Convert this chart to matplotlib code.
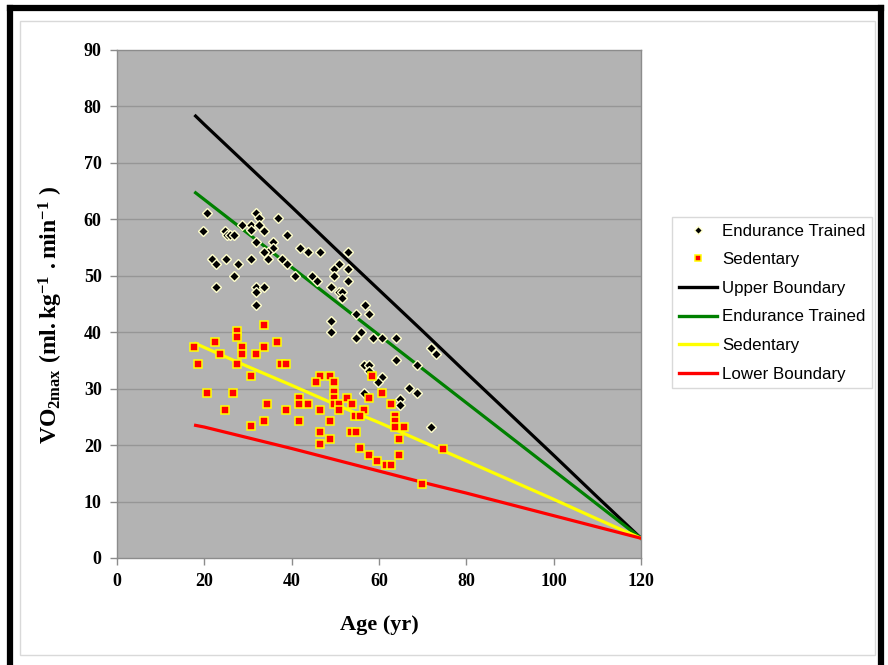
import matplotlib
matplotlib.use("Agg")
import matplotlib.pyplot as plt
from matplotlib.lines import Line2D
from matplotlib.patches import Rectangle

# endurance trained subjects (age, VO2max)
trained_age = [20.7, 19.8, 24.7, 25.1, 25.9, 26.8, 28.7, 30.6, 30.6, 31.8,
               32.6, 32.6, 33.7, 36.9, 38.9, 31.8, 35.8, 35.8, 34.6, 33.7,
               41.9, 43.8, 21.7, 22.6, 24.9, 27.6, 30.7, 34.6, 37.7, 38.9,
               40.8, 26.8, 22.6, 31.8, 33.7, 31.8, 31.8, 46.6, 52.8, 50.8,
               49.7, 52.8, 44.7, 45.9, 49.7, 52.8, 48.9, 50.8, 51.6, 51.6,
               56.8, 54.7, 57.8, 48.9, 48.9, 55.9, 54.7, 58.7, 60.8, 63.8,
               71.8, 73.0, 63.8, 68.7, 56.6, 57.8, 57.8, 60.8, 59.8, 66.8,
               68.7, 56.6, 64.8, 64.8, 71.8]
trained_vo2 = [61.1, 58.0, 58.0, 57.2, 57.2, 57.2, 59.0, 59.0, 58.1, 61.1,
               60.2, 59.0, 58.0, 60.2, 57.2, 55.9, 55.9, 55.0, 54.2, 54.2,
               55.0, 54.2, 53.0, 52.1, 53.0, 52.1, 53.0, 53.0, 53.0, 52.1,
               50.0, 50.0, 48.1, 48.1, 48.1, 47.1, 44.9, 54.2, 54.2, 52.1,
               51.2, 51.2, 50.0, 49.1, 50.0, 49.1, 48.1, 47.1, 47.1, 46.1,
               44.9, 43.2, 43.2, 42.0, 40.1, 40.1, 39.0, 39.0, 39.0, 39.0,
               37.2, 36.1, 35.1, 34.2, 34.2, 34.2, 33.2, 32.1, 31.1, 30.1,
               29.2, 29.2, 28.2, 27.1, 23.2]

# sedentary subjects (age, VO2max)
sed_age = [33.7, 27.5, 27.5, 22.5, 17.7, 36.7, 28.6, 28.6, 33.7, 23.6,
           31.8, 18.5, 27.5, 37.5, 38.7, 30.6, 20.5, 26.6, 34.4, 41.7,
           41.7, 43.7, 24.7, 38.7, 33.7, 41.7, 30.6, 46.5, 48.8, 45.6,
           49.6, 58.4, 49.6, 60.8, 49.6, 49.6, 50.8, 52.7, 53.8, 50.8,
           46.5, 57.8, 62.8, 56.6, 54.5, 55.7, 63.6, 63.6, 63.6, 65.8,
           48.8, 46.5, 48.8, 46.5, 53.5, 54.7, 64.6, 55.7, 74.7, 57.7,
           64.6, 59.6, 61.5, 62.7, 69.8]
sed_vo2 = [41.2, 40.3, 39.1, 38.2, 37.3, 38.2, 37.3, 36.1, 37.3, 36.1,
           36.1, 34.3, 34.3, 34.3, 34.3, 32.2, 29.3, 29.3, 27.2, 28.3,
           27.2, 27.2, 26.3, 26.3, 24.2, 24.2, 23.3, 32.2, 32.2, 31.2,
           31.2, 32.2, 29.4, 29.2, 28.3, 27.3, 27.3, 28.3, 27.3, 26.2,
           26.2, 28.3, 27.3, 26.2, 25.2, 25.2, 25.2, 24.2, 23.2, 23.2,
           24.2, 22.3, 21.1, 20.2, 22.3, 22.3, 21.1, 19.4, 19.3, 18.2,
           18.2, 17.2, 16.4, 16.4, 13.1]

# reference lines
line_age = [18, 20, 30, 40, 50, 60, 70, 80, 90, 100, 110, 120]
upper_vo2 = [78.3, 76.8, 69.5, 62.2, 54.8, 47.5, 40.2, 32.8, 25.5, 18.2, 10.8, 3.5]
trained_line = [64.7, 63.5, 57.5, 51.5, 45.5, 39.5, 33.5, 27.5, 21.5, 15.5, 9.5, 3.5]
sed_line = [38.0, 37.3, 33.9, 30.6, 27.2, 24.0, 20.6, 17.2, 13.8, 10.4, 6.9, 3.5]
lower_vo2 = [23.5, 23.2, 21.3, 19.4, 17.4, 15.4, 13.4, 11.5, 9.5, 7.5, 5.5, 3.5]

plt.rcParams['mathtext.fontset'] = 'custom'
plt.rcParams['mathtext.rm'] = 'Liberation Serif:bold'
plt.rcParams['mathtext.bf'] = 'Liberation Serif:bold'
plt.rcParams['mathtext.it'] = 'Liberation Serif:bold'

W, H = 888, 665
fig = plt.figure(figsize=(W / 100, H / 100), dpi=100)
ax = fig.add_axes([117 / W, 1 - 558 / H, 524 / W, 508 / H])
ax.set_facecolor('#B3B3B3')

ax.plot(line_age, upper_vo2, color='black', lw=2.3, label='Upper Boundary', zorder=3)
ax.plot(line_age, trained_line, color='#008000', lw=2.3, label='Endurance Trained', zorder=3)
ax.plot(line_age, sed_line, color='#FFFF00', lw=2.3, label='Sedentary', zorder=3)
ax.plot(line_age, lower_vo2, color='#FF0000', lw=2.3, label='Lower Boundary', zorder=3)

ax.plot(trained_age, trained_vo2, ls='none', marker='D', ms=4.6, mfc='black',
        mec='#FFFFCC', mew=1.0, zorder=4)
ax.plot(sed_age, sed_vo2, ls='none', marker='s', ms=5.2, mfc='#FF0000',
        mec='#FFFF00', mew=1.1, zorder=4)

ax.set_xlim(0, 120)
ax.set_ylim(0, 90)
ax.set_xticks(range(0, 121, 20))
ax.set_yticks(range(0, 91, 10))
for v in range(10, 90, 10):
    ax.axhline(v, color='#969696', lw=1.0, zorder=1)

for sp in ax.spines.values():
    sp.set_color('#8C8C8C')
    sp.set_linewidth(1.0)
ax.tick_params(direction='out', length=5, width=1, color='#8C8C8C', pad=6)
for lab in ax.get_xticklabels() + ax.get_yticklabels():
    lab.set_fontfamily('Liberation Serif')
    lab.set_fontweight('bold')
    lab.set_fontsize(13)

ax.set_xlabel('Age (yr)', family='Liberation Serif', weight='bold', fontsize=16, labelpad=18)
ax.set_ylabel(r'$\mathrm{VO}_{\mathrm{2max}}\ \mathrm{(ml.kg}^{-1}\ \mathrm{.min}^{-1}\ \mathrm{)}$',
              fontsize=17)
ax.yaxis.set_label_coords(-0.1, 0.478)

handles = [
    Line2D([], [], ls='none', marker='D', ms=4.0, mfc='black', mec='#FFFFCC', mew=1.0),
    Line2D([], [], ls='none', marker='s', ms=5.0, mfc='#FF0000', mec='#FFFF00', mew=1.1),
    Line2D([], [], color='black', lw=2.4),
    Line2D([], [], color='#008000', lw=2.4),
    Line2D([], [], color='#FFFF00', lw=2.4),
    Line2D([], [], color='#FF0000', lw=2.4),
]
labels = ['Endurance Trained', 'Sedentary', 'Upper Boundary',
          'Endurance Trained', 'Sedentary', 'Lower Boundary']
leg = fig.legend(handles, labels, loc='upper left',
                 bbox_to_anchor=(672 / W, 1 - 217 / H),
                 prop={'family': 'Liberation Sans', 'size': 12.2},
                 frameon=True, fancybox=False, edgecolor='#D0D0D0',
                 handlelength=2.25, handletextpad=0.3, labelspacing=0.8,
                 borderpad=0.4, borderaxespad=0)
leg.get_frame().set_linewidth(1.0)

# inner light frame and thick outer border
fig.patches.append(Rectangle((20 / W, 1 - 655 / H), 855 / W, 634 / H,
                             transform=fig.transFigure, fill=False,
                             edgecolor='#D9D9D9', lw=1.0))
fig.lines.append(Line2D([10 / W, 10 / W], [0, 1 - 8 / H], transform=fig.transFigure,
                        color='black', lw=4.5, solid_capstyle='projecting'))
fig.lines.append(Line2D([881 / W, 881 / W], [0, 1 - 8 / H], transform=fig.transFigure,
                        color='black', lw=4.5, solid_capstyle='projecting'))
fig.lines.append(Line2D([10 / W, 881 / W], [1 - 8 / H, 1 - 8 / H], transform=fig.transFigure,
                        color='black', lw=4.5, solid_capstyle='projecting'))

fig.savefig('out.png', dpi=100)
